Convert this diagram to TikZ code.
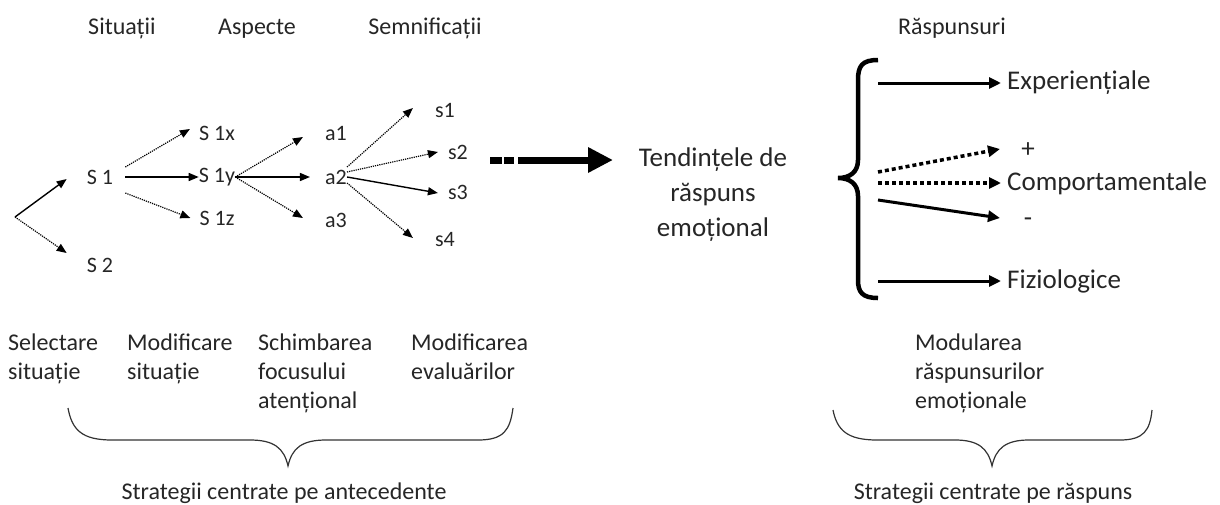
\documentclass[tikz,border=0pt]{standalone}
\usepackage{fontspec}
\setmainfont{Carlito}
\usetikzlibrary{arrows.meta}

\begin{document}
\begin{tikzpicture}[x=1pt,y=-1pt,
  every node/.style={font=\fontsize{24}{29}\selectfont, inner sep=0pt, text=black!85},
  head/.style={anchor=base},
  tree/.style={font=\fontsize{22}{26}\selectfont},
  lbl/.style={align=left, anchor=north west},
  big/.style={font=\fontsize{27}{35}\selectfont},
  tiparr/.style={-{Triangle[length=10pt,width=8pt]}},
  fine/.style={tiparr, densely dotted, line width=1.2pt},
  plain/.style={tiparr, line width=1.4pt},
  fat/.style={-{Triangle[length=12pt,width=11pt]}, line width=3pt},
  fatdot/.style={fat, dash pattern=on 4pt off 3pt, line width=3.5pt},
  curly/.style={line width=1.2pt, black!80}]
\useasboundingbox (0,0) rectangle (1220,504);

\node[head] (hsit) at (122,34) {Situații};
\node[head] (hasp) at (257,34) {Aspecte};
\node[head] (hsem) at (425,34) {Semnificații};
\node[head] (hrasp) at (952,34) {Răspunsuri};

\coordinate (root) at (15,217);
\node[tree] (S1) at (100,177) {S 1};
\node[tree] (S2) at (100,265) {S 2};
\node[tree] (S1x) at (217,133) {S 1x};
\node[tree] (S1y) at (217,177) {S 1y};
\node[tree] (S1z) at (217,218) {S 1z};
\node[tree] (a1) at (336,133) {a1};
\node[tree] (a2) at (336,177) {a2};
\node[tree] (a3) at (336,220) {a3};
\node[tree] (s1) at (445,110) {s1};
\node[tree] (s2) at (458,152) {s2};
\node[tree] (s3) at (458,192) {s3};
\node[tree] (s4) at (445,240) {s4};

\draw[plain] (root) -- ([xshift=-20pt,yshift=-2pt]S1.west);
\draw[fine] (root) -- ([xshift=-20pt,yshift=12pt]S2.west);
\draw[fine] ([xshift=12pt,yshift=10pt]S1.east) -- ([xshift=-9pt,yshift=4pt]S1x.west);
\draw[plain] ([xshift=12pt]S1.east) -- (S1y.west);
\draw[fine] ([xshift=12pt,yshift=-16pt]S1.east) -- ([xshift=-9pt]S1z.west);

\draw[fine] (S1y.east) -- ([xshift=-22pt,yshift=-4pt]a1.west);
\draw[plain] (S1y.east) -- ([xshift=-15pt]a2.west);
\draw[fine] (S1y.east) -- ([xshift=-22pt,yshift=2pt]a3.west);

\draw[fine] ([yshift=10pt]a2.east) -- ([xshift=-22pt,yshift=2pt]s1.west);
\draw[fine] ([yshift=5pt]a2.east) -- ([xshift=-10pt]s2.west);
\draw[plain] (a2.east) -- ([xshift=-10pt,yshift=-1pt]s3.west);
\draw[fine] ([yshift=-6pt]a2.east) -- ([xshift=-22pt,yshift=2pt]s4.west);

\node[big, align=center] (tend) at (713,195) {Tendințele de\\răspuns\\emoțional};
\coordinate (bigstart) at (490,160);
\coordinate (bigend) at (613,160);
\draw[line width=7pt, dash pattern=on 12pt off 2pt on 10pt off 4pt on 200pt,
  -{Triangle[length=25pt,width=24pt]}] (bigstart) -- (bigend);

\draw[line width=4.5pt] (878,60) .. controls (862,60) and (858,66) .. (858,80)
  -- (858,160) .. controls (858,172) and (850,178) .. (838,178)
  .. controls (850,178) and (858,184) .. (858,196)
  -- (858,280) .. controls (858,292) and (862,298) .. (878,298);

\node[big, anchor=west] (exp) at (1007,83) {Experiențiale};
\node[big] (plus) at (1028,150) {+};
\node[big, anchor=west] (comp) at (1007,183) {Comportamentale};
\node[big] (minus) at (1028,222) {-};
\node[big, anchor=west] (fiz) at (1007,281) {Fiziologice};

\coordinate (b1) at (878,83);
\coordinate (b2) at (878,172);
\coordinate (b3) at (878,183);
\coordinate (b4) at (878,200);
\coordinate (b5) at (878,281);
\draw[fat, shorten >=6pt] (b1) -- (exp.west);
\draw[fatdot] (b2) -- ([xshift=-28pt,yshift=1pt]plus.center);
\draw[fatdot, shorten >=6pt] (b3) -- (comp.west);
\draw[fat] (b4) -- ([xshift=-28pt,yshift=4pt]minus.center);
\draw[fat, shorten >=6pt] (b5) -- (fiz.west);

\node[lbl] (sel) at (8,334) {Selectare\\situație};
\node[lbl] (modsit) at (127,334) {Modificare\\situație};
\node[lbl] (schimb) at (258,334) {Schimbarea\\focusului\\atențional};
\node[lbl] (modev) at (411,334) {Modificarea\\evaluărilor};
\node[lbl] (modul) at (915,334) {Modularea\\răspunsurilor\\emoționale};

\draw[curly] (68,408) .. controls (72,430) and (82,440) .. (112,440)
  -- (250,440) .. controls (274,440) and (284,448) .. (288,466)
  .. controls (292,448) and (302,440) .. (326,440)
  -- (478,440) .. controls (504,440) and (510,430) .. (513,408);
\node (antec) at (284,493) {Strategii centrate pe antecedente};

\draw[curly] (833,410) .. controls (837,430) and (847,440) .. (877,440)
  -- (955,440) .. controls (978,440) and (988,448) .. (992,466)
  .. controls (996,448) and (1006,440) .. (1029,440)
  -- (1120,440) .. controls (1144,440) and (1150,430) .. (1152,410);
\node (raspstr) at (993,493) {Strategii centrate pe răspuns};
\end{tikzpicture}
\end{document}
